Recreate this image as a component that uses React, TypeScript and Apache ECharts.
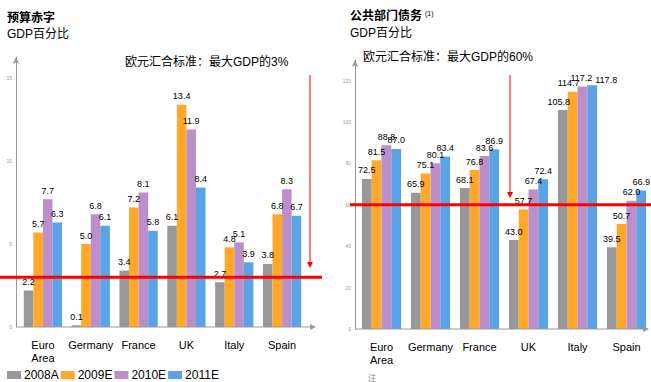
import React, { useEffect, useRef } from "react";
import * as echarts from "echarts";

const categories = ["Euro\nArea", "Germany", "France", "UK", "Italy", "Spain"];
const seriesNames = ["2008A", "2009E", "2010E", "2011E"];
const colors = ["#989898", "#FFA829", "#BC8FCB", "#5BA3E6"];

// Budget deficit, % of GDP
const deficit2008A = [2.2, 0.1, 3.4, 6.1, 2.7, 3.8];
const deficit2009E = [5.7, 5.0, 7.2, 13.4, 4.8, 6.8];
const deficit2010E = [7.7, 6.8, 8.1, 11.9, 5.1, 8.3];
const deficit2011E = [6.3, 6.1, 5.8, 8.4, 3.9, 6.7];

// Public debt, % of GDP
const debt2008A = [72.5, 65.9, 68.1, 43.0, 105.8, 39.5];
const debt2009E = [81.5, 75.1, 76.8, 57.7, 114.7, 50.7];
const debt2010E = [88.8, 80.1, 83.6, 67.4, 117.2, 62.0];
const debt2011E = [87.0, 83.4, 86.9, 72.4, 117.8, 66.9];

const deficitTicks = [0, 5, 10, 15];
const debtTicks = [0, 20, 40, 60, 80, 100, 120];
const deficitLimit = 3;
const debtLimit = 60;

const deficitData = [deficit2008A, deficit2009E, deficit2010E, deficit2011E];
const debtData = [debt2008A, debt2009E, debt2010E, debt2011E];

// label nudges (style only) for the crowded Italy group of the debt chart
const debtItalyLabelOffsets = [[-4, 0], [-4, 0], [-1, 0], [14, 3]];

const FONT = "'Liberation Sans', 'Noto Sans CJK SC', Arial, sans-serif";

export default function App() {
  const ref = useRef<HTMLDivElement>(null);
  useEffect(() => {
    if (!ref.current) return;
    const chart = echarts.init(ref.current, null, { renderer: "svg" });

    const yAxisCommon = (min: number, max: number, interval: number, offset: number, ticks: number[]) => ({
      type: "value",
      min,
      max,
      interval,
      offset,
      splitLine: { show: false },
      axisTick: { show: false },
      axisLine: {
        show: true,
        lineStyle: { color: "#999", width: 1 },
        symbol: ["none", "arrow"],
        symbolSize: [5, 7],
      },
      axisLabel: {
        fontSize: 5,
        color: "#999",
        margin: 4,
        showMaxLabel: false,
        formatter: (v: number) => (ticks.includes(v) ? String(v) : ""),
      },
    });

    const xAxisCommon = (gridIndex: number) => ({
      type: "category",
      gridIndex,
      data: categories,
      axisLine: { show: false },
      axisTick: { show: false },
      axisLabel: {
        interval: 0,
        fontSize: 11,
        lineHeight: 13,
        color: "#000",
        fontFamily: FONT,
        margin: 11,
      },
    });

    const makeSeries = (data: number[][], idx: number) =>
      data.map((vals, i) => ({
        type: "bar",
        name: seriesNames[i],
        xAxisIndex: idx,
        yAxisIndex: idx,
        data: vals.map((v, j) =>
          idx === 1 && categories[j] === "Italy"
            ? { value: v, label: { offset: debtItalyLabelOffsets[i] } }
            : v
        ),
        barGap: "0%",
        barCategoryGap: "20%",
        itemStyle: { color: colors[i] },
        label: {
          show: true,
          position: "top",
          distance: 4,
          fontSize: 9,
          color: "#000",
          fontFamily: FONT,
          formatter: (p: any) => Number(p.value).toFixed(1),
        },
      }));

    const option: any = {
      animation: false,
      textStyle: { fontFamily: FONT },
      grid: [
        { left: 19, top: 57, width: 287, height: 270 },
        { left: 357, top: 60, width: 294, height: 269 },
      ],
      xAxis: [xAxisCommon(0), xAxisCommon(1)],
      yAxis: [
        { ...yAxisCommon(0, 16.27, 5, 3, deficitTicks), gridIndex: 0 },
        { ...yAxisCommon(0, 130, 20, 2, debtTicks), gridIndex: 1 },
      ],
      legend: {
        data: seriesNames,
        left: 2,
        top: 364,
        itemWidth: 14,
        itemHeight: 8,
        itemGap: 2,
        icon: "rect",
        textStyle: { fontSize: 12, color: "#000", fontFamily: FONT, padding: [0, 0, 0, -2] },
      },
      series: [...makeSeries(deficitData, 0), ...makeSeries(debtData, 1)],
    };
    chart.setOption(option);

    const yL0 = chart.convertToPixel({ yAxisIndex: 0 }, 0) as number;
    const yR0 = chart.convertToPixel({ yAxisIndex: 1 }, 0) as number;
    const yLimL = chart.convertToPixel({ yAxisIndex: 0 }, deficitLimit) as number;
    const yLimR = chart.convertToPixel({ yAxisIndex: 1 }, debtLimit) as number;

    const grey = "#999";
    const red = "#FF0000";
    const txt = (x: number, y: number, text: string, size: number, bold = false, color = "#000") => ({
      type: "text",
      x,
      y,
      z: 100,
      style: {
        text,
        fontSize: size,
        fontWeight: bold ? "bold" : "normal",
        fill: color,
        fontFamily: FONT,
        textVerticalAlign: "middle",
        verticalAlign: "middle",
      },
    });

    chart.setOption({
      graphic: [
        // x axes
        { type: "line", z: 50, shape: { x1: 16, y1: yL0, x2: 311, y2: yL0 }, style: { stroke: grey, lineWidth: 1 } },
        { type: "polygon", z: 50, shape: { points: [[310, yL0 - 3], [316, yL0], [310, yL0 + 3]] }, style: { fill: grey } },
        { type: "line", z: 50, shape: { x1: 355, y1: yR0, x2: 644, y2: yR0 }, style: { stroke: grey, lineWidth: 1 } },
        { type: "polygon", z: 50, shape: { points: [[643, yR0 - 3], [649, yR0], [643, yR0 + 3]] }, style: { fill: grey } },
        // limit lines
        { type: "line", z: 60, shape: { x1: 0, y1: yLimL, x2: 322, y2: yLimL }, style: { stroke: red, lineWidth: 3 } },
        { type: "line", z: 60, shape: { x1: 350, y1: yLimR, x2: 651, y2: yLimR }, style: { stroke: red, lineWidth: 3 } },
        // vertical arrows
        { type: "line", z: 60, shape: { x1: 310, y1: 75, x2: 310, y2: 263 }, style: { stroke: red, lineWidth: 1 } },
        { type: "polygon", z: 60, shape: { points: [[307, 262], [313, 262], [310, 268]] }, style: { fill: red } },
        { type: "line", z: 60, shape: { x1: 510, y1: 75, x2: 510, y2: 193 }, style: { stroke: red, lineWidth: 1 } },
        { type: "polygon", z: 60, shape: { points: [[507, 192], [513, 192], [510, 198]] }, style: { fill: red } },
        // titles
        txt(7, 18, "预算赤字", 12, true),
        txt(7, 34, "GDP百分比", 12),
        txt(350, 16, "公共部门债务", 12, true),
        txt(425, 13, "(1)", 7),
        txt(350, 33, "GDP百分比", 12),
        txt(125, 62, "欧元汇合标准：最大GDP的3%", 12),
        txt(363, 57, "欧元汇合标准：最大GDP的60%", 12),
        txt(368, 378, "注", 8, false, "#888"),
      ],
    });

    return () => chart.dispose();
  }, []);

  return (
    <div
      ref={ref}
      style={{ position: "absolute", left: 0, top: 0, width: 651, height: 382, background: "#fff" }}
    />
  );
}
